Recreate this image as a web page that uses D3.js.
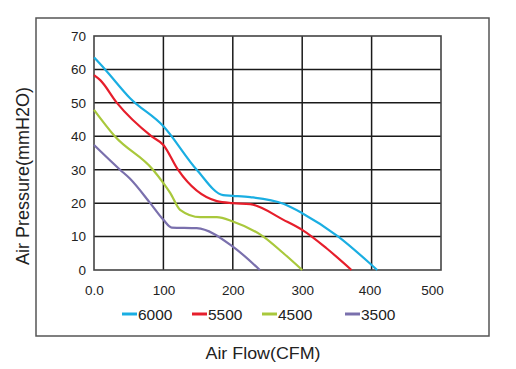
<!DOCTYPE html>
<html><head><meta charset="utf-8">
<script src="https://cdn.jsdelivr.net/npm/d3@7"></script>
<style>body{margin:0;background:#fff}svg{display:block}text{font-family:"Liberation Sans",Arial,sans-serif;fill:#222}</style>
</head><body><svg id="c" width="516" height="369"></svg>
<script>
const xTicks = [0,100,200,300,400,500];
const xTickLabels = ["0.0","100","200","300","400","500"];
const yTicks = [0,10,20,30,40,50,60,70];
const seriesNames = ["6000","5500","4500","3500"];
const seriesColors = ["#1aaee2","#e61e2b","#a9c83c","#7a70ad"];
const flow6000 = [0,16,52,100,148,186,200,225,273,300,352,400,408];
const pres6000 = [63.6,60,51.4,43,30,22.4,22.2,21.8,19.8,17,10,1.5,0];
const flow5500 = [0,9,33,83,100,121,177,200,225,273,300,335,371];
const pres5500 = [58.3,56.8,50,40,37.4,30,20.6,20,19.7,15,12,6.5,0];
const flow4500 = [0,30,85,100,110,124,153,177,200,244,273,300];
const pres4500 = [47.9,40,30,26,23,18,15.8,15.8,14.5,10,5,0];
const flow3500 = [0,37.5,52,81,100,112,148,200,239];
const pres3500 = [37.4,30,27.3,20,15,12.7,12.5,7,0];
const flows = [flow6000,flow5500,flow4500,flow3500];
const press = [pres6000,pres5500,pres4500,pres3500];

const svg = d3.select("#c");
const x = d3.scaleLinear().domain([0,500]).range([94,441]);
const y = d3.scaleLinear().domain([0,70]).range([270,36]);

// outer frame
svg.append("rect").attr("x",36).attr("y",18).attr("width",453).attr("height",318)
  .attr("fill","none").attr("stroke","#555").attr("stroke-width",1.5);

// grid
const g = svg.append("g");
g.selectAll("line.v").data(xTicks.slice(1,-1)).join("line")
  .attr("x1",d=>x(d)).attr("x2",d=>x(d)).attr("y1",y(70)).attr("y2",y(0))
  .attr("stroke","#1a1a1a").attr("stroke-width",1.5);
g.selectAll("line.h").data(yTicks.slice(1,-1)).join("line")
  .attr("x1",x(0)).attr("x2",x(500)).attr("y1",d=>y(d)).attr("y2",d=>y(d))
  .attr("stroke","#1a1a1a").attr("stroke-width",1.5);
g.append("rect").attr("x",x(0)).attr("y",y(70)).attr("width",x(500)-x(0)).attr("height",y(0)-y(70))
  .attr("fill","none").attr("stroke","#444").attr("stroke-width",1.6);

// axes labels
const yAxis = d3.axisLeft(y).tickValues(yTicks).tickSize(0).tickPadding(8);
const ya = svg.append("g").attr("transform",`translate(${x(0)},0)`).call(yAxis);
ya.select(".domain").remove();
ya.selectAll("text").attr("font-size",13.5).style("fill","#222");
const xAxis = d3.axisBottom(x).tickValues(xTicks).tickFormat((d,i)=>xTickLabels[i]).tickSize(0).tickPadding(15);
const xa = svg.append("g").attr("transform",`translate(0,${y(0)})`).call(xAxis);
xa.select(".domain").remove();
xa.selectAll("text").attr("font-size",13.5).style("fill","#222")
  .attr("dx",(d,i)=> i===xTicks.length-1 ? -9 : (i===xTicks.length-2 ? -2 : 0));

// curves
const line = d3.line().x(d=>x(d[0])).y(d=>y(d[1])).curve(d3.curveMonotoneX);
flows.forEach((f,i)=>{
  svg.append("path").datum(f.map((v,j)=>[v,press[i][j]]))
    .attr("d",line).attr("fill","none").attr("stroke",seriesColors[i]).attr("stroke-width",2.2);
});

// legend
const legX = [122,192,262,345];
seriesNames.forEach((n,i)=>{
  svg.append("line").attr("x1",legX[i]).attr("x2",legX[i]+15).attr("y1",314).attr("y2",314)
    .attr("stroke",seriesColors[i]).attr("stroke-width",3);
  svg.append("text").attr("x",legX[i]+16).attr("y",319.5).attr("font-size",15.5).text(n);
});

// titles
svg.append("text").attr("x",263).attr("y",359).attr("text-anchor","middle").attr("font-size",17)
  .attr("textLength",115).attr("lengthAdjust","spacingAndGlyphs").text("Air Flow(CFM)");
svg.append("text").attr("transform","translate(29,176) rotate(-90)").attr("text-anchor","middle").attr("font-size",18)
  .attr("textLength",178).attr("lengthAdjust","spacingAndGlyphs").text("Air Pressure(mmH2O)");
</script></body></html>
